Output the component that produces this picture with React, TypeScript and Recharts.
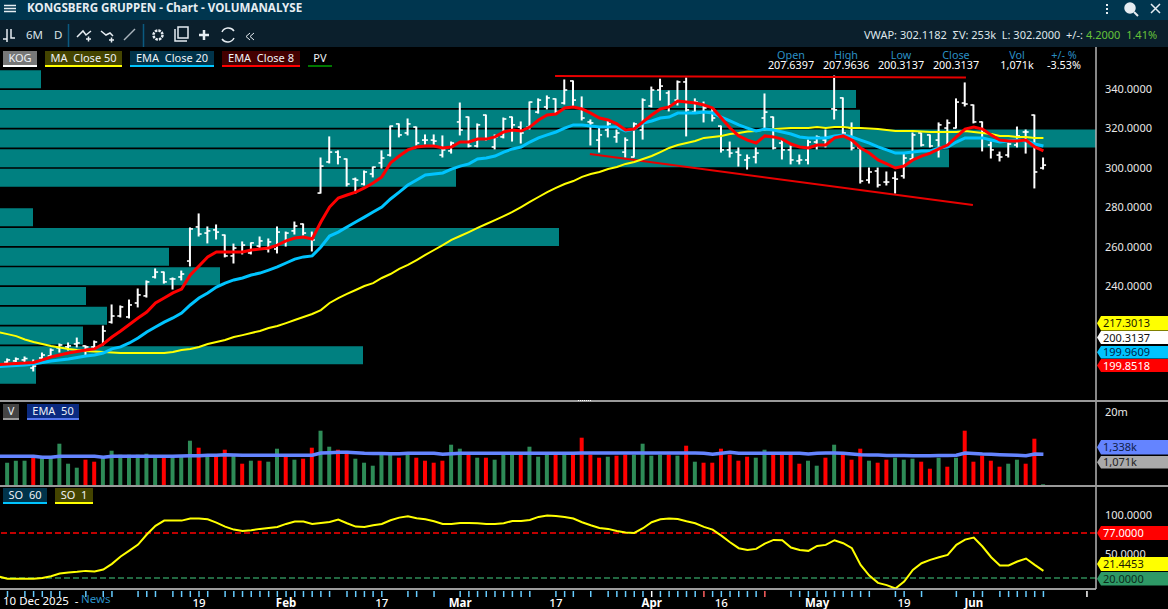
import { Bar, BarChart, Cell, ComposedChart, Line, ReferenceLine, XAxis, YAxis } from "recharts";

const opens = [
  201.4,202,202.5,198.4,203.5,204.5,208.6,209.1,210.6,209.6,
  209.1,210.1,221.7,224.8,224.3,231.4,235,244.6,247.1,243.6,
  244.6,252.7,270,266.9,268.5,265.9,255.3,257.3,256.8,260.3,
  258.8,258.8,262.4,268,271.5,264.4,287.2,303,308,304.5,
  294.3,291.8,296.9,302.5,306.5,322.3,317.7,320.7,314.1,314.1,
  306.5,308.6,323.3,325.8,311.1,326.8,310.6,315.7,325.8,320.7,
  320.7,328.3,330.9,335,332.9,344.1,330.4,323.3,314.1,319.2,
  315.7,308,305.5,319.2,331.4,339.5,338,334.4,343.6,328.3,
  331.9,328.3,321.2,309.1,308,304,305.5,325.3,325.8,312.6,
  309.1,303.5,304,313.1,314.1,329.9,335.5,320.2,310.1,293.8,
  298.4,292.8,294.8,295.9,304.5,317.7,316.7,314.1,320.2,320.2,
  332.9,331.9,323.3,311.6,306.5,306.5,311.6,318.2,326.8,299.9,
];
const highs = [
  203,203.5,204,202.5,206,208.1,210.6,211.1,213.6,209.6,
  212.1,219.7,230.4,229.9,232.9,238.5,242.6,248.7,247.1,244.1,
  247.6,269.5,276.6,270,271,265.9,261.3,262.4,261.9,264.9,
  263.9,270,267.4,272.5,271.5,267.4,305,315.7,308.6,304.5,
  294.8,298.4,300.4,308.6,321.2,322.3,324.8,320.7,316.7,316.7,
  316.2,313.1,332.9,325.8,322.3,326.8,316.7,325.3,325.8,323.3,
  333.4,335,336.5,335,344.6,344.1,336,324.3,320.2,323.8,
  319.2,315.2,322.8,335,341,345,339,344.1,345.6,335,
  333.4,330.4,321.2,313.1,310.1,306.5,310.1,337.5,325.8,314.1,
  311.1,306.5,314.1,316.2,319.2,346.6,335.5,322.8,310.1,299.9,
  299.9,297.9,297.9,307.5,317.7,317.7,316.7,322.8,324.3,335,
  343.1,331.9,323.3,313.1,308,312.6,320.7,319.2,326.8,305,
];
const lows = [
  200.9,200.9,201.4,196.9,203,204,206.5,207.5,209.1,204.5,
  208.1,210.1,221.2,224.3,223.8,229.4,234.4,244.1,241.5,238.5,
  243.1,250.2,265.4,261.9,263.9,254.8,251.7,256.3,256.3,259.3,
  257.3,256.8,260.3,266.4,265.9,257.8,287.2,302.5,302,290.8,
  287.2,291.3,295.4,299.9,306,315.7,316.7,311.6,312.1,311.6,
  305.5,307.5,316.7,310.6,310.6,314.1,309.6,315.2,313.6,312.6,
  319.7,327.8,329.9,327.8,332.4,331.4,324.3,311.6,308,315.7,
  313,305.5,305.5,314.6,330.9,334.4,328.9,331.9,316.2,327.8,
  323.3,323.8,308,305.5,300.9,299.4,302.5,319.2,309.6,304.5,
  302,302,302,309.6,310.6,324.8,316.7,309.1,292.3,292.3,
  290.3,291.3,287.2,294.8,304.5,311.1,310.6,305.5,311.6,320.2,
  331.4,322.8,308.6,305,303.5,305.5,310.6,307.5,289.8,299.4,
];
const closes = [
  202.5,203,203.2,199.4,205,207.5,210.1,209.6,211.1,209.1,
  211.6,217.2,224.8,229.4,230.4,235.5,242.1,247.1,242.1,243.6,
  246.1,269,266.4,268,267.4,255.3,259.3,260.8,261.9,262.9,
  262.4,267.4,266.9,270.5,266.9,263.4,300.9,308,305.5,291.8,
  293.8,297.9,300.4,305,321.2,316.7,322.3,312.6,314.1,313.6,
  309.1,312.6,319.2,311.1,321.8,314.6,315.7,324.8,321.8,317.7,
  333.4,334.4,335.5,328.3,339.5,334.4,325.3,322.8,316.7,322.3,
  317.7,314.1,322.3,334.4,339.5,341.5,331.9,343.6,329.4,333.4,
  330.4,325.3,309.1,307.5,306.5,305,307.5,328.3,310.1,309.1,
  304,304,313.1,315.7,315.7,329.4,317.7,310.1,293.3,297.9,
  291.3,292.8,294.3,305,316.7,311.6,311.1,321.8,322.8,333.4,
  332.4,323.3,317.7,309.1,305.5,312.1,316.2,318.2,297.9,301.4,
];
const ema8 = [
  200.4,200.7,200.9,201.2,202.5,204,205,206,206.8,207.5,
  208.1,210.6,214.1,217.2,220.5,223.8,226.8,231.4,233.9,236.5,
  238.5,245.6,250.2,254.8,257.3,257.3,257.3,257.3,258.3,258.8,
  259.3,260.8,262.9,264.4,264.9,263.9,272.5,280.1,284.7,286.2,
  287.7,289.8,292.3,295.4,302.5,306,309.1,310.6,311.1,311.1,
  310.1,310.6,313.1,313.1,314.6,314.6,315.7,318.2,319.2,318.7,
  320.7,324.3,326.8,327.3,330.4,330.9,329.9,327.8,325.3,324.3,
  322.3,319.2,319.7,323.3,326.8,329.9,330.9,333.9,333.4,332.9,
  331.9,330.4,325.3,320.2,316.2,314.1,312.6,316.2,315.7,314.6,
  312.1,310.6,310.1,311.6,311.6,315.2,316.2,314.1,310.1,307.5,
  304,302,299.9,300.9,304,306,307.5,309.6,311.6,315.7,
  319.7,320.7,319.7,316.7,314.1,313.6,313.6,314.1,310.6,308.6,
];
const ema20 = [
  199.4,199.7,199.9,200.4,201.2,202,202.5,203,203.7,204.5,
  205,206,208.1,209.1,211.1,213.6,216.7,219.2,221.7,223.8,
  226.3,230.4,233.9,236.5,239.5,241.5,243.1,244.1,245.6,246.6,
  248.1,249.7,251.7,253.7,254.8,255.3,259.8,265.4,267.4,270,
  272.5,275,277.6,280.1,284.2,287.7,291.3,293.8,296.4,296.9,
  297.4,299.4,300.9,302,304.5,305,306,308,309.6,310.6,
  313.1,315.2,316.7,318.2,320.2,321.8,321.8,321.2,320.7,320.7,
  320.7,318.7,319.7,322.8,323.8,325.3,325.8,327.8,327.8,327.8,
  328.3,327.8,325.8,323.8,321.8,320.2,318.7,319.7,319.2,318.2,
  317.2,315.7,315.2,315.2,315.2,316.2,316.7,315.7,314.1,312.6,
  310.6,309.1,307.5,307.5,308,308.6,308.6,310.1,310.6,313.1,
  315.2,315.2,315.2,314.1,313.1,313.6,314.1,313.6,312.1,311.1,
];
const ma50 = [
  215.6,214.6,212.9,211.6,210.6,209.6,208.8,208.1,207.5,207,
  206.8,206.5,206.3,206,206,206,206,206,206,206.5,
  207.5,208.1,209.1,210.6,211.6,212.6,214.1,215.1,216.2,217.2,
  218.7,219.7,221.2,222.8,224.3,225.8,227.8,231.4,233.9,236,
  238,240,241.5,244.1,246.1,248.7,250.7,253.2,255.8,258.3,
  260.8,263.4,265.4,267.4,269.5,271.5,273.5,275.5,277.6,280.1,
  282.7,285.2,287.7,289.8,291.8,293.3,295.4,296.9,297.9,299.4,
  300.4,302,303,304.5,306,308,310.1,311.6,312.6,313.6,
  315.2,315.7,316.2,317.2,317.7,318.5,318.7,319.5,319.7,320,
  320.2,320.2,320.2,320.7,320.2,320.7,320.7,320.2,320.2,320,
  319.7,319.2,318.7,318.7,318.7,318.5,318.2,318.2,318.2,318.2,
  318.7,318.2,317.7,317.2,316.2,316.2,315.7,315.7,315.2,315.2,
];
// value of each average on the session just before the visible window
const leadIn = { ma50: 216.6, ema20: 199.2, ema8: 200.2, volEma: 28.7, so: 21.8 };

// volume, the pane has its own non-linear scale
const volume = [
  22.3,24.3,24.3,27,27,27,41.3,21.3,17.3,25.3,
  23.3,27,34.3,30.3,30.3,30.3,31.3,27,27,28.7,
  28.7,44.3,37.3,30.3,30.3,35.3,30.3,21.3,24.3,24.3,
  23.3,36.3,28.7,25.3,26.3,37.3,54.3,38.3,35.3,32,
  26.3,22.3,19.3,30.3,30.3,27.3,30.3,27.3,24.3,22.3,
  24.3,40.3,36.3,30.3,27.3,27.3,25.3,30.3,30.3,30.3,
  38.3,28.3,30.3,30.3,30.3,30.3,47.3,30.3,27.3,28.3,
  29.3,30.3,30.3,41.3,29.3,30.3,30.3,29.3,39.3,23.3,
  22.3,22.3,36.3,30.3,24.3,28.3,27.3,35.3,30.3,30.3,
  30.3,21.3,24.3,19.3,27.3,40.3,30.3,25.3,36.3,24.3,
  22.3,25.3,27.3,25.3,26.3,23.3,16.3,27.3,18.3,27.3,
  54.3,23.3,29.3,24.3,18.3,21.3,25.3,21.3,46.3,0.7,
];
const redVolumeBars = [
  3,9,10,18,22,24,25,27,29,32,34,35,38,39,45,47,48,49,50,53,55,59,63,65,66,67,68,70,71,76,78,
  80,81,82,83,84,85,88,89,90,91,94,96,97,98,100,101,105,106,108,110,111,112,113,114,117,118,
];
const volEma = [
  28.7,28.7,28.7,28.7,27.7,27.7,28.7,28.7,28.7,28.7,
  28.7,27.7,28.7,28.7,28.7,28.7,28.7,28.7,28.7,28.7,
  29,29.3,29.3,29.7,29.7,30.3,30,29.7,29.7,29.7,
  29.7,29.7,29.7,29.7,29.7,29.7,32,32.3,32.7,32.7,
  32.3,31.7,31.5,31.5,31.3,31.3,31.7,31.7,31.7,31.7,
  30.7,31.3,31.7,31.7,31.7,31.7,31.7,31.7,31.7,31.7,
  31.7,31.7,31.7,31.7,31.7,31.7,32,32,32,32,
  32,32,32,32,32,32,32,32,32,32,
  31.7,30.7,31.7,32.7,31.7,31.7,31.7,31.7,31.7,31.7,
  31.7,31.7,31,31.7,32,32,31.7,31,30.3,30,
  30,29.5,29.5,29.5,29.3,29.3,29.3,29.5,29.5,29.7,
  32,31.5,31,30.7,30.3,30,29.7,29.3,31,30.7,
];
const so = [
  18.9,18.9,18.9,18.9,20.1,22.3,25.6,26.9,27.8,29,
  28.2,30.7,37.9,47.2,54.8,62.4,75.1,86.1,92.8,92.8,
  92.8,95.4,95.4,94.5,90.3,85.2,81.4,79.7,80.6,82.3,
  83.5,84.8,88.6,91.6,91.6,88.6,89.9,91.1,94.1,89.4,
  85.2,84.8,86.9,88.6,93.2,96.6,98.3,95.8,94.5,92,
  88.6,88.6,89.9,89.9,89.4,88.6,88.6,89.4,92.4,92.4,
  93.7,97.5,99.2,98.7,97.5,95.4,90.7,86.9,83.5,82.3,
  79.7,77.6,77.2,83.1,90.7,94.5,95.4,94.9,92,89.4,
  84.8,81.4,73.8,65.4,57.8,55.6,56.9,63.7,68.3,67.9,
  58.6,55.6,54.4,60.7,62,67.9,64.1,57.8,36.6,23.1,
  13.8,10.9,6.6,15.5,30.3,38.7,43,46.3,49.3,62,
  68.7,71.3,59.9,46.3,35.8,35.8,40.9,44.7,36.6,29,
];

// volume profile, one row per 10 kr price bin (row length in the profile's own units)
const profilePrices = [345,335,325,315,305,295,285,275,265,255,245,235,225,215,205,195];
const profileVolume = [41,856,860,1096,949,456,0,33,559,169,220,86,107,83,363,36];

const priceTicks = [240,260,280,300,320,340];
const soTicks = [50,100];
const newsBars = [
  0,2,3,4,5,6,9,11,12,15,16,17,19,20,21,22,23,25,26,27,28,29,30,31,32,33,34,35,36,37,39,40,41,42,43,
  46,47,49,52,53,54,55,56,57,58,59,60,63,64,65,67,69,70,71,72,73,75,76,77,78,79,81,82,83,84,85,86,
  90,91,92,93,94,95,96,97,98,99,102,103,105,109,111,112,114,115,116,117,118,119,
];
const redMarkBars = [80,87];
const whiteMarkBars = [74,124];
const dateLabels = [
  { bar: 22, text: "19", bold: false },
  { bar: 32, text: "Feb", bold: true },
  { bar: 43, text: "17", bold: false },
  { bar: 52, text: "Mar", bold: true },
  { bar: 63, text: "17", bold: false },
  { bar: 74, text: "Apr", bold: true },
  { bar: 82, text: "16", bold: false },
  { bar: 93, text: "May", bold: true },
  { bar: 103, text: "19", bold: false },
  { bar: 111, text: "Jun", bold: true },
];
const timeTicks = Array.from(new Set([...newsBars, ...redMarkBars, ...whiteMarkBars])).sort((a, b) => a - b);

// trend lines drawn by the user on the chart, in bar/price
const resistanceLine = [{ x: 62.9, y: 346.6 }, { x: 110.1, y: 345.9 }];
const supportLine = [{ x: 66.9, y: 307 }, { x: 110.9, y: 281.1 }];

const rows = [
  { i: -1, ma50: leadIn.ma50, ema20: leadIn.ema20, ema8: leadIn.ema8, volEma: leadIn.volEma, so: leadIn.so },
  ...opens.map((open, i) => ({
    i,
    open,
    close: closes[i],
    range: [lows[i], highs[i]],
    ma50: ma50[i],
    ema20: ema20[i],
    ema8: ema8[i],
    volume: volume[i],
    volEma: volEma[i],
    so: so[i],
  })),
];
const profileRows = profilePrices.map((price, k) => ({ price, volume: profileVolume[k] }));

const FONT = "'Noto Sans', sans-serif";
const TEAL = "#008080";
const barDomain = [-0.86, 125.04];
const priceDomain = [182.16, 361.34];

const OhlcBar = (props: any) => {
  const { x, y, width, height, payload } = props;
  if (!payload || !payload.range) return null;
  const [low, high] = payload.range;
  const span = high - low || 1;
  const cx = x + width / 2;
  const openY = y + ((high - payload.open) / span) * height;
  const closeY = y + ((high - payload.close) / span) * height;
  return (
    <g stroke="#ffffff">
      <line x1={cx} x2={cx} y1={y - 0.5} y2={y + height + 0.5} strokeWidth={2} />
      <line x1={cx - 3} x2={cx} y1={openY} y2={openY} strokeWidth={1.6} />
      <line x1={cx} x2={cx + 3} y1={closeY} y2={closeY} strokeWidth={1.6} />
    </g>
  );
};

const DateTick = (props: any) => {
  const { x, y, payload } = props;
  const bar = payload.value;
  const label = dateLabels.find((d) => d.bar === bar);
  const color = redMarkBars.includes(bar) ? "#ff6060" : whiteMarkBars.includes(bar) ? "#ffffff" : "#66ccff";
  return (
    <g>
      <line x1={x} x2={x} y1={y} y2={y + 6} stroke={color} strokeWidth={1.5} />
      {label && (
        <text x={x} y={y + 16} fill="#ffffff" textAnchor="middle" fontSize={11.5} fontFamily={FONT} fontWeight={label.bold ? 700 : 500}>
          {label.text}
        </text>
      )}
    </g>
  );
};

function Chip({ left, top, width, text, bg, line }: any) {
  return (
    <div style={{ position: "absolute", left, top, width, height: 16, background: bg, borderBottom: `2px solid ${line}`, boxSizing: "border-box", color: "#eef2f6", font: `11px ${FONT}`, lineHeight: "14px", textAlign: "center", whiteSpace: "pre", overflow: "hidden" }}>
      {text}
    </div>
  );
}

function Tag({ top, height, text, bg, color }: any) {
  return (
    <svg style={{ position: "absolute", left: 1097, top, overflow: "visible" }} width={71} height={height}>
      <polygon points={`0,${height / 2} 4,0 71,0 71,${height} 4,${height}`} fill={bg} />
      <text x={6} y={height / 2 + 4} fontSize={11} fontFamily={FONT} fill={color}>{text}</text>
    </svg>
  );
}

function TopCell({ x, head, value }: any) {
  return (
    <div style={{ position: "absolute", left: x - 40, top: 50, width: 80, textAlign: "center", font: `10.8px ${FONT}`, lineHeight: "10px" }}>
      <div style={{ color: "#2a8fc4" }}>{head}</div>
      <div style={{ color: "#ffffff" }}>{value}</div>
    </div>
  );
}

function Header() {
  return (
    <>
      <div style={{ position: "absolute", left: 0, top: 0, width: 1168, height: 20, background: "#00364f" }} />
      <div style={{ position: "absolute", left: 0, top: 20, width: 1168, height: 27, background: "#0b1f2c" }} />
      <svg style={{ position: "absolute", left: 0, top: 0 }} width={1168} height={47}>
        <g stroke="#e6edf2" strokeWidth={1.5} fill="none">
          <path d="M4 5.5H16M4 8.5H16M4 11.5H16" />
          <path d="M3 39H7V29M7 31V42M11 29V38H15" />
          <path d="M77 37L83 31L86 35L91 31M86 39h5M88.500 36.500v5" />
          <path d="M101 31L106 35L110 33L113 36M109 40h5M111.500 37.500v5" />
          <path d="M124 40L135 29" stroke="#aab4bc" />
          <circle cx={158} cy={35} r={4.500} strokeDasharray="2.500 1" strokeWidth={2.500} />
          <path d="M175 29V41H187M178 27H188V38H178Z" />
          <path d="M199 35H209M204 30V40" strokeWidth={2.500} />
          <path d="M222 32A7 7 0 0 1 234 31M234 38A7 7 0 0 1 222 39" />
          <path d="M250 33L246 36.500L250 40M254 33L250 36.500L254 40" strokeWidth={1} />
          <path d="M1107 4v2M1107 8v2M1107 12v2" strokeWidth={2} />
          <circle cx={1130} cy={8} r={5} fill="#e6edf2" />
          <path d="M1134 12L1138 16" strokeWidth={2} />
          <path d="M1151 4L1160 13M1160 4L1151 13" />
        </g>
        <path d="M68.500 24V47M143.500 24V47" stroke="#0b5a80" strokeWidth={1.500} />
        <text x={27} y={12} fontSize={11.6} fontWeight={700} fontFamily={FONT} fill="#e6edf2">KONGSBERG GRUPPEN - Chart - VOLUMANALYSE</text>
        <text x={26} y={39} fontSize={11.5} fontFamily={FONT} fill="#d8e2e8">6M</text>
        <text x={54} y={39} fontSize={11.5} fontFamily={FONT} fill="#d8e2e8">D</text>
        <text x={864} y={39} fontSize={11} fontFamily={FONT} fill="#dfe6ea" xmlSpace="preserve">VWAP: 302.1182  ΣV: 253k  L: 302.2000  +/-:</text>
        <text x={1086} y={39} fontSize={11} fontFamily={FONT} fill="#66c33a" xmlSpace="preserve">4.2000  1.41%</text>
      </svg>
    </>
  );
}

export default function App() {
  const yTick = { fill: "#e8e8e8", fontSize: 11, fontFamily: FONT };
  const yLine = { stroke: "#b4b4b4", strokeWidth: 1.5 };
  return (
    <div style={{ position: "absolute", left: 0, top: 0, width: 1168, height: 609, background: "#000000", overflow: "hidden" }}>
      <Header />

      {/* volume profile sits under the price pane */}
      <div style={{ position: "absolute", left: 0, top: 47 }}>
        <BarChart layout="vertical" width={1168} height={353} data={profileRows} margin={{ top: 0, right: 72, bottom: 0, left: 0 }}>
          <XAxis type="number" domain={[0, 1096]} hide />
          <YAxis type="number" dataKey="price" domain={priceDomain} reversed hide allowDataOverflow />
          <Bar dataKey="volume" fill={TEAL} barSize={18} isAnimationActive={false} />
        </BarChart>
      </div>

      <div style={{ position: "absolute", left: 0, top: 47 }}>
        <ComposedChart width={1168} height={353} data={rows} margin={{ top: 0, right: 0, bottom: 0, left: 0 }}>
          <XAxis type="number" dataKey="i" domain={barDomain} hide allowDataOverflow />
          <YAxis
            orientation="right"
            width={72}
            domain={priceDomain}
            ticks={priceTicks}
            allowDataOverflow
            tickFormatter={(v: number) => v.toFixed(4)}
            tick={yTick}
            tickLine={false}
            tickMargin={3}
            axisLine={yLine}
          />
          <ReferenceLine segment={resistanceLine} stroke="#e80000" strokeWidth={2} />
          <ReferenceLine segment={supportLine} stroke="#e80000" strokeWidth={2} />
          <Bar dataKey="range" barSize={6} shape={OhlcBar} isAnimationActive={false} />
          <Line dataKey="ma50" stroke="#ffff00" strokeWidth={2} dot={false} isAnimationActive={false} />
          <Line dataKey="ema20" stroke="#00c4ff" strokeWidth={3} dot={false} isAnimationActive={false} />
          <Line dataKey="ema8" stroke="#ff0000" strokeWidth={3} dot={false} isAnimationActive={false} />
        </ComposedChart>
      </div>

      <div style={{ position: "absolute", left: 0, top: 400 }}>
        <ComposedChart width={1168} height={85} data={rows} margin={{ top: 0, right: 0, bottom: 0, left: 0 }}>
          <XAxis type="number" dataKey="i" domain={barDomain} hide allowDataOverflow />
          <YAxis
            orientation="right"
            width={72}
            domain={[0, 85]}
            ticks={[73]}
            tickFormatter={() => "20m"}
            tick={yTick}
            tickLine={false}
            tickMargin={3}
            axisLine={yLine}
          />
          <Bar dataKey="volume" barSize={4} isAnimationActive={false}>
            {rows.map((row) => (
              <Cell key={row.i} fill={redVolumeBars.includes(row.i) ? "#ff0000" : "#2e8b57"} />
            ))}
          </Bar>
          <Line dataKey="volEma" stroke="#6484ff" strokeWidth={3.5} dot={false} isAnimationActive={false} />
        </ComposedChart>
      </div>

      <div style={{ position: "absolute", left: 0, top: 485 }}>
        <ComposedChart width={1168} height={124} data={rows} margin={{ top: 0, right: 0, bottom: 0, left: 0 }}>
          <XAxis
            type="number"
            dataKey="i"
            domain={barDomain}
            ticks={timeTicks}
            interval={0}
            height={20}
            allowDataOverflow
            tick={DateTick}
            tickSize={0}
            tickLine={false}
            axisLine={{ stroke: "#d0d0d0", strokeWidth: 1.5 }}
          />
          <YAxis
            orientation="right"
            width={72}
            domain={[6, 138]}
            ticks={soTicks}
            allowDataOverflow
            tickFormatter={(v: number) => v.toFixed(4)}
            tick={yTick}
            tickLine={false}
            tickMargin={3}
            axisLine={yLine}
          />
          <ReferenceLine y={77} stroke="#ff0000" strokeWidth={1.5} strokeDasharray="6 3" />
          <ReferenceLine y={20} stroke="#2e8b57" strokeWidth={1.5} strokeDasharray="6 3" />
          <Line dataKey="so" stroke="#ffff00" strokeWidth={2} dot={false} isAnimationActive={false} />
        </ComposedChart>
      </div>

      {/* pane separators */}
      <div style={{ position: "absolute", left: 0, top: 400, width: 1168, height: 2, background: "#9a9a9a" }} />
      <div style={{ position: "absolute", left: 0, top: 484.5, width: 1168, height: 2, background: "#9a9a9a" }} />
      <div style={{ position: "absolute", left: 578, top: 399.5, width: 13, height: 1, borderTop: "1px dotted #ffffff" }} />

      <Chip left={3} top={51} width={34} text="KOG" bg="#777777" line="#ffffff" />
      <Chip left={45} top={51} width={77} text="MA  Close 50" bg="#444400" line="#ffff00" />
      <Chip left={130} top={51} width={84} text="EMA  Close 20" bg="#00334a" line="#00c4ff" />
      <Chip left={222} top={51} width={78} text="EMA  Close 8" bg="#440000" line="#ff0000" />
      <Chip left={308} top={51} width={24} text="PV" bg="#000000" line="#007700" />
      <Chip left={3} top={404} width={16} text="V" bg="#444444" line="#999999" />
      <Chip left={27} top={404} width={52} text="EMA  50" bg="#0a2a80" line="#5577ee" />
      <Chip left={3} top={488} width={44} text="SO  60" bg="#00334a" line="#00c4ff" />
      <Chip left={55} top={488} width={38} text="SO  1" bg="#444400" line="#ffff00" />

      <TopCell x={791} head="Open" value="207.6397" />
      <TopCell x={846} head="High" value="207.9636" />
      <TopCell x={901} head="Low" value="200.3137" />
      <TopCell x={956} head="Close" value="200.3137" />
      <TopCell x={1017} head="Vol" value="1,071k" />
      <TopCell x={1064} head="+/- %" value="-3.53%" />

      <Tag top={315.5} height={14.5} text="217.3013" bg="#ffff00" color="#1a1a00" />
      <Tag top={331} height={13} text="200.3137" bg="#ffffff" color="#101010" />
      <Tag top={345.5} height={12.5} text="199.9609" bg="#00c4ff" color="#00244a" />
      <Tag top={359} height={13} text="199.8518" bg="#ff0000" color="#ffffff" />
      <Tag top={439.5} height={14.5} text="1,338k" bg="#6484ff" color="#10204a" />
      <Tag top={456} height={12.5} text="1,071k" bg="#aaaaaa" color="#222222" />
      <Tag top={526} height={14} text="77.0000" bg="#ff0000" color="#ffffff" />
      <Tag top={557} height={14} text="21.4453" bg="#ffff00" color="#1a1a00" />
      <Tag top={572} height={13.5} text="20.0000" bg="#2e9966" color="#0b2a1a" />

      <div style={{ position: "absolute", left: 3, top: 594, font: `11.5px ${FONT}`, lineHeight: "14px", color: "#ffffff", whiteSpace: "pre" }}>10 Dec 2025  -</div>
      <div style={{ position: "absolute", left: 81, top: 592, font: `11.5px ${FONT}`, lineHeight: "14px", color: "#2a8fc4" }}>News</div>
    </div>
  );
}
